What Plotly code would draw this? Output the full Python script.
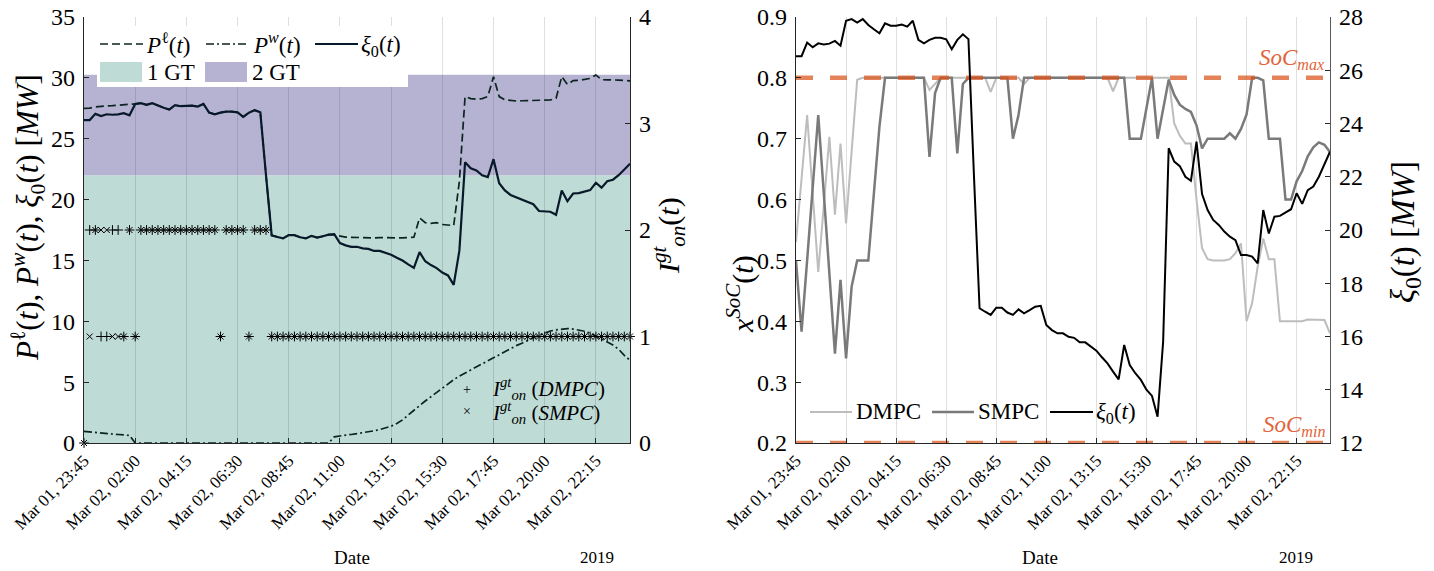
import pandas as pd
import plotly.graph_objects as go

# the html body margin is removed below, so the figure fills the window
OFF = 0
W, H = 1434, 571

# ---------------- data ----------------
times = pd.date_range("2019-03-01 23:45", periods=97, freq="15min")

xi0 = [26.53, 26.53, 27.04, 26.86, 27.01, 26.97, 27.00, 27.10, 26.92, 27.86,
       27.92, 27.79, 27.92, 27.70, 27.54, 27.39, 27.76, 27.67, 27.67, 27.72,
       27.64, 27.86, 27.14, 27.01, 27.14, 27.22, 27.22, 27.16, 26.79, 27.14,
       27.35, 27.17, 22.00, 17.06, 16.93, 16.81, 17.08, 17.08, 16.90, 16.81,
       17.02, 16.87, 16.99, 17.12, 17.15, 16.43, 16.24, 16.12, 16.12, 15.99,
       15.95, 15.78, 15.78, 15.62, 15.47, 15.22, 14.99, 14.68, 14.39, 15.68,
       14.93, 14.62, 14.37, 14.00, 13.77, 12.99, 15.80, 23.07, 22.57, 22.40,
       22.00, 21.85, 23.32, 21.35, 20.75, 20.38, 20.19, 19.94, 19.75, 19.62,
       19.06, 19.06, 19.00, 18.75, 20.75, 19.87, 20.50, 20.53, 20.65, 20.78,
       21.38, 20.98, 21.50, 21.63, 22.00, 22.50, 22.94]

p_load = [27.50, 27.52, 27.62, 27.68, 27.70, 27.72, 27.74, 27.76, 27.78, 27.86,
          27.92, 27.79, 27.92, 27.70, 27.54, 27.39, 27.76, 27.67, 27.67, 27.72,
          27.64, 27.86, 27.14, 27.01, 27.14, 27.22, 27.22, 27.16, 26.79, 27.14,
          27.35, 27.17, 22.00, 17.06, 16.93, 16.81, 17.08, 17.08, 16.90, 16.81,
          17.02, 16.87, 16.99, 17.12, 17.10, 17.00, 16.92, 16.90, 16.88, 16.85,
          16.88, 16.85, 16.88, 16.85, 16.85, 16.85, 16.85, 16.85, 16.90, 18.50,
          18.10, 18.05, 18.10, 17.95, 17.90, 17.86, 21.50, 28.46, 28.30, 28.24,
          28.30, 28.46, 30.10, 28.46, 28.20, 28.15, 28.10, 28.12, 28.13, 28.10,
          28.12, 28.15, 28.18, 28.32, 30.10, 29.45, 29.77, 29.80, 29.88, 29.95,
          30.24, 29.85, 29.83, 29.85, 29.82, 29.78, 29.75]

p_wind = [0.95, 0.92, 0.88, 0.83, 0.78, 0.74, 0.70, 0.66, 0.62, 0.00,
          0.00, 0.00, 0.00, 0.00, 0.00, 0.00, 0.00, 0.00, 0.00, 0.00,
          0.00, 0.00, 0.00, 0.00, 0.00, 0.00, 0.00, 0.00, 0.00, 0.00,
          0.00, 0.00, 0.00, 0.00, 0.00, 0.00, 0.00, 0.00, 0.00, 0.00,
          0.00, 0.00, 0.00, 0.00, 0.50, 0.60, 0.65, 0.70, 0.76, 0.83,
          0.91, 1.00, 1.10, 1.22, 1.38, 1.60, 1.90, 2.30, 2.70, 3.10,
          3.45, 3.80, 4.15, 4.50, 4.90, 5.20, 5.50, 5.75, 6.00, 6.30,
          6.55, 6.80, 7.00, 7.30, 7.55, 7.80, 8.00, 8.20, 8.45, 8.65,
          8.85, 9.05, 9.20, 9.30, 9.38, 9.40, 9.36, 9.28, 9.18, 9.02,
          8.80, 8.55, 8.30, 8.05, 7.70, 7.20, 6.80]

ion_dmpc = [0, 2, 2, 1, 1, 2, 2, 1, 2, 1,
            2, 2, 2, 2, 2, 2, 2, 2, 2, 2,
            2, 2, 2, 2, 1, 2, 2, 2, 2, 1,
            2, 2, 2, 1, 1, 1, 1, 1, 1, 1,
            1, 1, 1, 1, 1, 1, 1, 1, 1, 1,
            1, 1, 1, 1, 1, 1, 1, 1, 1, 1,
            1, 1, 1, 1, 1, 1, 1, 1, 1, 1,
            1, 1, 1, 1, 1, 1, 1, 1, 1, 1,
            1, 1, 1, 1, 1, 1, 1, 1, 1, 1,
            1, 1, 1, 1, 1, 1, 1]

ion_smpc = [0, 1, 2, 2, 2, 1, 1, 1, 2, 1,
            2, 2, 2, 2, 2, 2, 2, 2, 2, 2,
            2, 2, 2, 2, 1, 2, 2, 2, 2, 1,
            2, 2, 2, 1, 1, 1, 1, 1, 1, 1,
            1, 1, 1, 1, 1, 1, 1, 1, 1, 1,
            1, 1, 1, 1, 1, 1, 1, 1, 1, 1,
            1, 1, 1, 1, 1, 1, 1, 1, 1, 1,
            1, 1, 1, 1, 1, 1, 1, 1, 1, 1,
            1, 1, 1, 1, 1, 1, 1, 1, 1, 1,
            1, 1, 1, 1, 1, 1, 1]

soc_dmpc = [0.530, 0.640, 0.739, 0.610, 0.481, 0.590, 0.703, 0.575, 0.692, 0.561,
            0.680, 0.797, 0.800, 0.800, 0.800, 0.800, 0.800, 0.800, 0.800, 0.800,
            0.800, 0.800, 0.800, 0.800, 0.780, 0.790, 0.800, 0.800, 0.800, 0.800,
            0.800, 0.800, 0.800, 0.800, 0.800, 0.777, 0.800, 0.800, 0.800, 0.800,
            0.800, 0.790, 0.800, 0.800, 0.800, 0.800, 0.800, 0.800, 0.800, 0.800,
            0.800, 0.800, 0.800, 0.800, 0.800, 0.800, 0.800, 0.778, 0.800, 0.800,
            0.800, 0.800, 0.800, 0.800, 0.800, 0.800, 0.800, 0.800, 0.725, 0.705,
            0.692, 0.692, 0.600, 0.520, 0.502, 0.500, 0.500, 0.500, 0.502, 0.512,
            0.528, 0.400, 0.430, 0.490, 0.536, 0.502, 0.502, 0.400, 0.400, 0.400,
            0.400, 0.400, 0.403, 0.403, 0.403, 0.402, 0.380]

soc_smpc = [0.500, 0.383, 0.500, 0.620, 0.739, 0.610, 0.480, 0.347, 0.468, 0.339,
            0.457, 0.500, 0.500, 0.500, 0.610, 0.720, 0.800, 0.800, 0.800, 0.800,
            0.800, 0.800, 0.800, 0.800, 0.670, 0.775, 0.800, 0.800, 0.800, 0.676,
            0.790, 0.800, 0.800, 0.800, 0.800, 0.800, 0.800, 0.800, 0.800, 0.700,
            0.739, 0.800, 0.800, 0.800, 0.800, 0.800, 0.800, 0.800, 0.800, 0.800,
            0.800, 0.800, 0.800, 0.800, 0.800, 0.800, 0.800, 0.800, 0.800, 0.800,
            0.700, 0.700, 0.700, 0.750, 0.800, 0.700, 0.750, 0.797, 0.772, 0.756,
            0.749, 0.744, 0.722, 0.684, 0.700, 0.700, 0.700, 0.700, 0.709, 0.700,
            0.716, 0.740, 0.800, 0.800, 0.796, 0.700, 0.700, 0.700, 0.600, 0.600,
            0.630, 0.647, 0.671, 0.686, 0.694, 0.690, 0.678]

GT1_MAX = 22.0
GT2_MAX = 30.25
SOC_MAX = 0.8
SOC_MIN = 0.2

tick_times = pd.date_range("2019-03-01 23:45", periods=11, freq="135min")
tick_labels = ["Mar 01, 23:45", "Mar 02, 02:00", "Mar 02, 04:15", "Mar 02, 06:30",
               "Mar 02, 08:45", "Mar 02, 11:00", "Mar 02, 13:15", "Mar 02, 15:30",
               "Mar 02, 17:45", "Mar 02, 20:00", "Mar 02, 22:15"]

# ---------------- styling ----------------
FONT = "Liberation Serif"
GREEN = "rgb(191,219,213)"
PURPLE = "rgb(182,179,210)"
DARK = "#0c2420"
XI_DARK = "#08192a"
ORANGE = "rgba(217,83,25,0.72)"
ORANGE_TXT = "#e2643a"
DMPC_C = "#bdbdbd"
SMPC_C = "#7a7a7a"
GRID = "rgba(38,38,38,0.15)"
AX = "#262626"


def px(x):
    """page pixel x -> paper coordinate"""
    return (x - OFF) / W


def py(y):
    """page pixel y -> paper coordinate"""
    return 1 - (y - OFF) / H


fig = go.Figure()

# ---- left subplot ----
fig.add_trace(go.Scatter(x=times, y=p_load, mode="lines", xaxis="x", yaxis="y",
                         line=dict(color=DARK, width=1.7, dash="8px,4px"), showlegend=False))
fig.add_trace(go.Scatter(x=times, y=p_wind, mode="lines", xaxis="x", yaxis="y",
                         line=dict(color=DARK, width=1.7, dash="8px,3px,2px,3px"), showlegend=False))
fig.add_trace(go.Scatter(x=times, y=xi0, mode="lines", xaxis="x", yaxis="y",
                         line=dict(color=XI_DARK, width=2.2), showlegend=False))
fig.add_trace(go.Scatter(x=times, y=ion_dmpc, mode="markers", xaxis="x", yaxis="y2",
                         marker=dict(symbol="cross-thin", size=7, line=dict(color="black", width=1)),
                         showlegend=False, cliponaxis=False))
fig.add_trace(go.Scatter(x=times, y=ion_smpc, mode="markers", xaxis="x", yaxis="y2",
                         marker=dict(symbol="x-thin", size=6, line=dict(color="black", width=1)),
                         showlegend=False, cliponaxis=False))

# ---- right subplot ----
fig.add_trace(go.Scatter(x=times, y=soc_dmpc, mode="lines", xaxis="x2", yaxis="y3",
                         line=dict(color=DMPC_C, width=2), showlegend=False))
fig.add_trace(go.Scatter(x=times, y=soc_smpc, mode="lines", xaxis="x2", yaxis="y3",
                         line=dict(color=SMPC_C, width=2.5), showlegend=False))
fig.add_trace(go.Scatter(x=[times[0], times[-1]], y=[SOC_MAX, SOC_MAX], mode="lines",
                         xaxis="x2", yaxis="y3",
                         line=dict(color=ORANGE, width=4.5, dash="17px,17px"), showlegend=False))
fig.add_trace(go.Scatter(x=[times[0], times[-1]], y=[SOC_MIN, SOC_MIN], mode="lines",
                         xaxis="x2", yaxis="y3",
                         line=dict(color=ORANGE, width=4.5, dash="17px,17px"), showlegend=False))
fig.add_trace(go.Scatter(x=times, y=xi0, mode="lines", xaxis="x2", yaxis="y4",
                         line=dict(color="black", width=2), showlegend=False))

# bands (capacity of 1 GT / 2 GT)
shapes = [
    dict(type="rect", xref="x", yref="y", x0=times[0], x1=times[-1], y0=0, y1=GT1_MAX,
         fillcolor=GREEN, line=dict(width=0), layer="below"),
    dict(type="rect", xref="x", yref="y", x0=times[0], x1=times[-1], y0=GT1_MAX, y1=GT2_MAX,
         fillcolor=PURPLE, line=dict(width=0), layer="below"),
]

# manual legend (left plot, top)
shapes.append(dict(type="rect", xref="paper", yref="paper", x0=px(97), x1=px(408),
                   y0=py(87), y1=py(26), fillcolor="white", line=dict(width=0), layer="above"))
row1 = py(44)
for (a, b, dash, col, w) in [(100, 143, "8px,4px", DARK, 1.7),
                              (206, 249, "8px,3px,2px,3px", DARK, 1.7),
                              (315, 358, "solid", XI_DARK, 2.2)]:
    shapes.append(dict(type="line", xref="paper", yref="paper", x0=px(a), x1=px(b),
                       y0=row1, y1=row1, line=dict(color=col, width=w, dash=dash), layer="above"))
shapes.append(dict(type="rect", xref="paper", yref="paper", x0=px(100), x1=px(142),
                   y0=py(82), y1=py(62), fillcolor=GREEN, line=dict(width=0), layer="above"))
shapes.append(dict(type="rect", xref="paper", yref="paper", x0=px(205), x1=px(247),
                   y0=py(82), y1=py(62), fillcolor=PURPLE, line=dict(width=0), layer="above"))
# manual legend (right plot, bottom)
row_r = py(412)
for (a, b, col, w) in [(810, 852, DMPC_C, 2), (932, 974, SMPC_C, 2.5), (1050, 1093, "black", 2)]:
    shapes.append(dict(type="line", xref="paper", yref="paper", x0=px(a), x1=px(b),
                       y0=row_r, y1=row_r, line=dict(color=col, width=w), layer="above"))

annotations = []


def text(x, y, s, size=23, anchor="left", color="black", angle=0):
    annotations.append(dict(x=px(x), y=py(y), xref="paper", yref="paper", text=s,
                            showarrow=False, xanchor=anchor, yanchor="middle", textangle=angle,
                            font=dict(family=FONT, size=size, color=color)))


text(144, 44, "<i>P</i><sup>ℓ</sup>(<i>t</i>)")
text(251, 44, "<i>P</i><sup><i>w</i></sup>(<i>t</i>)")
text(359, 46, "<i>ξ</i><sub>0</sub>(<i>t</i>)")
text(145, 72, "1 GT")
text(250, 72, "2 GT")

text(467, 389, "+", size=14, anchor="center")
text(467, 411, "×", size=14, anchor="center")
text(490, 388, "<i>I</i><sup><i>gt</i></sup><sub><i>on</i></sub> (<i>DMPC</i>)", size=21)
text(490, 412, "<i>I</i><sup><i>gt</i></sup><sub><i>on</i></sub> (<i>SMPC</i>)", size=21)

text(854, 411, "DMPC")
text(976, 411, "SMPC")
text(1094, 413, "<i>ξ</i><sub>0</sub>(<i>t</i>)")

text(1327, 59, "<i>SoC</i><sub><i>max</i></sub>", size=23, anchor="right", color=ORANGE_TXT)
text(1327, 426, "<i>SoC</i><sub><i>min</i></sub>", size=23, anchor="right", color=ORANGE_TXT)

text(352, 557, "Date", size=19, anchor="center")
text(1040, 557, "Date", size=19, anchor="center")
text(597, 557, "2019", size=17, anchor="center")
text(1296, 557, "2019", size=17, anchor="center")

# axis titles
text(28, 218, "<i>P</i><sup>ℓ</sup>(<i>t</i>), <i>P</i><sup><i>w</i></sup>(<i>t</i>), "
              "<i>ξ</i><sub>0</sub>(<i>t</i>) [<i>MW</i>]", size=31, anchor="center", angle=-90)
text(668, 236, "<i>I</i><sup><i>gt</i></sup><sub><i>on</i></sub>(<i>t</i>)",
     size=30, anchor="center", angle=-90)
text(740, 294, "<i>x</i><sup><i>SoC</i></sup>(<i>t</i>)", size=30, anchor="center", angle=-90)
text(1405, 232, "<i>ξ</i><sub>0</sub>(<i>t</i>) [<i>MW</i>]", size=33, anchor="center", angle=-90)

ydom = [py(443), py(17)]
tickfont = dict(family=FONT, size=24, color="black")
xcommon = dict(type="date", range=[times[0], times[-1]], tickvals=tick_times, ticktext=tick_labels,
               tickangle=-45, ticks="inside", ticklen=5, tickcolor=AX, showgrid=True,
               gridcolor=GRID, gridwidth=1, showline=True, linecolor=AX, linewidth=1.2,
               tickfont=dict(family=FONT, size=17, color="black"), zeroline=False,
               automargin=False, ticklabeloverflow="allow")
ycommon = dict(ticks="inside", ticklen=5, tickcolor=AX, showgrid=False, showline=True,
               linecolor=AX, linewidth=1.2, tickfont=tickfont, zeroline=False, automargin=False,
               ticklabelstandoff=3, ticklabeloverflow="allow")

fig.update_layout(
    width=W, height=H, margin=dict(l=0, r=0, t=0, b=0),
    paper_bgcolor="white", plot_bgcolor="white", showlegend=False,
    xaxis=dict(domain=[px(84), px(630)], anchor="y", **xcommon),
    yaxis=dict(domain=ydom, range=[0, 35], dtick=5, anchor="x", **ycommon),
    yaxis2=dict(domain=ydom, range=[0, 4], dtick=1, overlaying="y", side="right", anchor="x",
                **ycommon),
    xaxis2=dict(domain=[px(796), px(1330)], anchor="y3", **xcommon),
    yaxis3=dict(domain=ydom, range=[0.2, 0.9], dtick=0.1, tickformat=".1f", anchor="x2",
                **ycommon),
    yaxis4=dict(domain=ydom, range=[12, 28], dtick=2, overlaying="y3", side="right", anchor="x2",
                **{**ycommon, "linecolor": "#5a5a5a"}),
    shapes=shapes,
    annotations=annotations,
)

fig.write_html("out.html",
               config={"displayModeBar": False},
               post_script="document.body.style.margin='0px';"
                           "document.body.style.overflow='hidden';")
